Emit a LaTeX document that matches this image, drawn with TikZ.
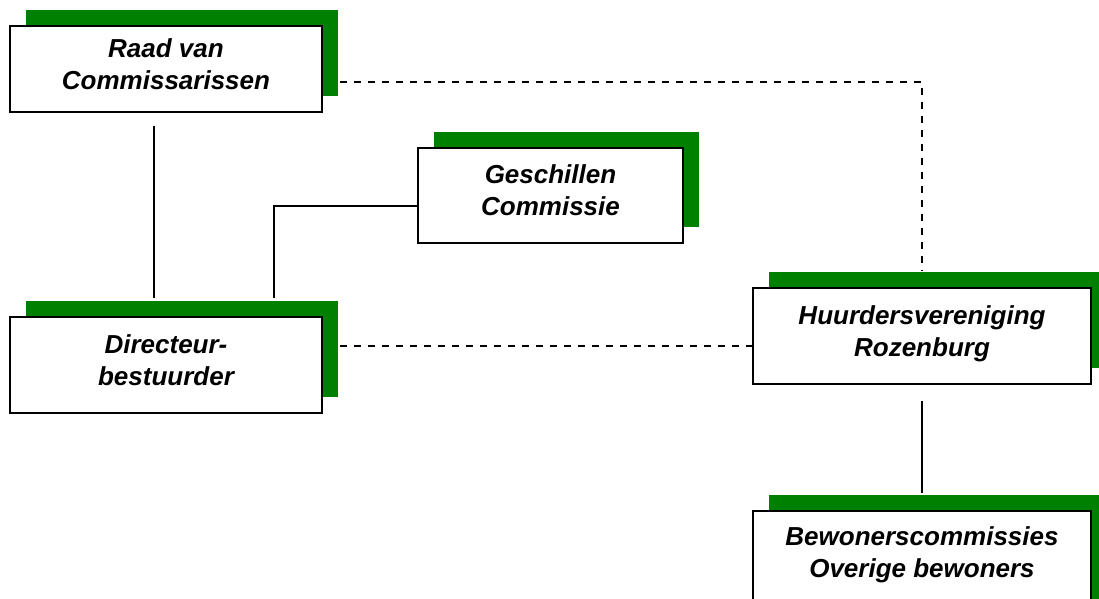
\documentclass[tikz,border=0pt]{standalone}
\usepackage{fontspec}
\setmainfont{Liberation Sans}
\usepackage{tikz}
\usetikzlibrary{shapes,arrows,backgrounds,%
positioning,fit,calc,shadows%
}
\definecolor{shadowgreen}{RGB}{0,128,0}

\tikzset{
  orgbox/.style={draw,line width=1.5pt,fill=white,rectangle,inner sep=0pt,
    align=center,text depth=10pt,font=\fontsize{26}{32}\selectfont\bfseries\itshape,
    general shadow={fill=shadowgreen,shadow xshift=16pt,shadow yshift=16pt}},
  solidline/.style={line width=1.3pt},
  dashline/.style={line width=1.5pt,dash pattern=on 7pt off 7pt}
}

\begin{document}
\begin{tikzpicture}[x=1pt,y=-1pt]
      \useasboundingbox (0,0) rectangle (1099,598);
      \clip (0,0) rectangle (1099,598);

      \node[orgbox,minimum width=312,minimum height=86] (raad) at (166,69)
        {Raad van\\Commissarissen};
      \node[orgbox,minimum width=265,minimum height=95] (gesch) at (550.5,195.5)
        {Geschillen\\Commissie};
      \node[orgbox,minimum width=312,minimum height=96] (dir) at (166,365)
        {Directeur-\\bestuurder};
      \node[orgbox,minimum width=338,minimum height=96] (huur) at (922,336)
        {Huurdersvereniging\\Rozenburg};
      \node[orgbox,minimum width=338,minimum height=104,text depth=22pt] (bew) at (922,563)
        {Bewonerscommissies\\Overige bewoners};

      \coordinate (rv) at (154,0);
      \coordinate (rd) at ([yshift=-13pt]raad.east);
      \coordinate (dd) at ([yshift=19pt]dir.east);

      \draw[solidline,shorten <=13pt,shorten >=18pt] (raad.south -| rv) -- (dir.north -| rv);
      \draw[solidline,shorten >=18pt] ([yshift=-10.5pt]gesch.west) -| ([xshift=108pt]dir.north);
      \draw[dashline,shorten <=17pt,shorten >=16pt] (rd) -| (huur.north);
      \draw[dashline,shorten <=17pt] (dd) -- (dd -| huur.west);
      \draw[solidline,shorten <=16pt,shorten >=17pt] (huur.south) -- (bew.north);

\end{tikzpicture}
\end{document}
